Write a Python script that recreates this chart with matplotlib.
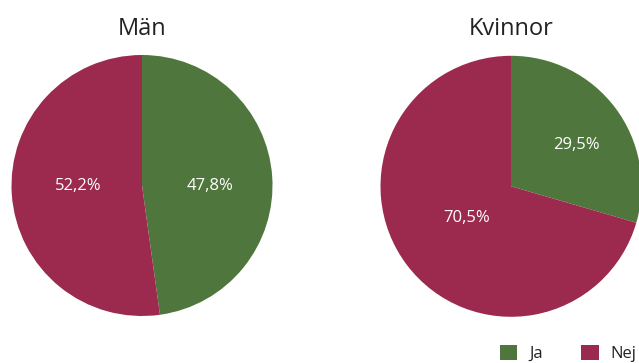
import matplotlib.pyplot as plt
import numpy as np

plt.rcParams['font.family'] = ['Open Sans', 'DejaVu Sans']

groups = ["Män", "Kvinnor"]
categories = ["Ja", "Nej"]
ja = [47.8, 29.5]
nej = [52.2, 70.5]
colors = ["#4f763c", "#9b2a4e"]

# pie placement in pixel units (y measured from bottom)
centers = [(142, 363 - 185.5), (511, 363 - 186.3)]
radius = 130.5
# label spots relative to each pie centre, in pixels
label_offsets = [[(68, -0.5), (-64, -0.5)], [(65, 41), (-44, -32)]]

fig = plt.figure(figsize=(6.39, 3.63), dpi=100)
ax = fig.add_axes([0, 0, 1, 1])

handles = None
for i, name in enumerate(groups):
    vals = [ja[i], nej[i]]
    cx, cy = centers[i]
    wedges, _ = ax.pie(vals, colors=colors, startangle=90, counterclock=False,
                       center=(cx, cy), radius=radius, frame=True,
                       wedgeprops=dict(linewidth=0))
    if handles is None:
        handles = wedges
    for j, v in enumerate(vals):
        dx, dy = label_offsets[i][j]
        ax.text(cx + dx, cy + dy, f"{v:.1f}%".replace(".", ","), color="white",
                fontsize=12, ha="center", va="center")
    ax.text(cx, 363 - 29, name, fontsize=17, color="#222222",
            ha="center", va="center")

ax.set_xlim(0, 639)
ax.set_ylim(0, 363)
ax.set_aspect("equal")
ax.axis("off")

fig.legend(handles, categories, loc="center", bbox_to_anchor=(568 / 639, 9.5 / 363),
           ncol=2, frameon=False, fontsize=12, handlelength=1.05, handleheight=1.05,
           handletextpad=0.7, columnspacing=2.3, labelcolor="#222222")

fig.savefig("out.png", dpi=100)
